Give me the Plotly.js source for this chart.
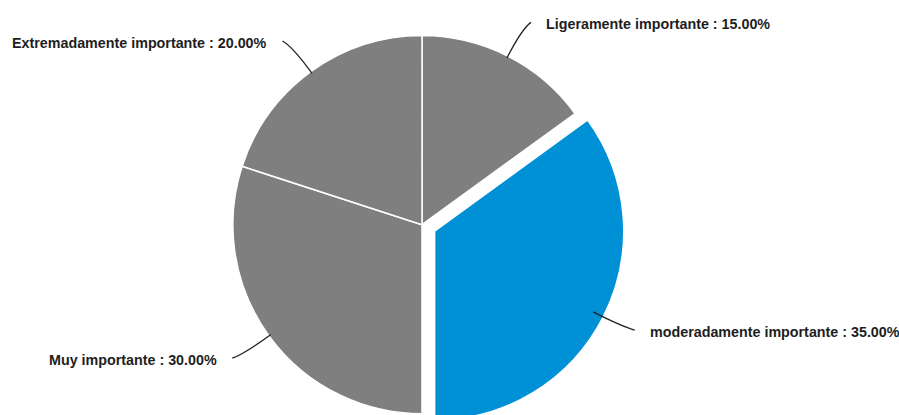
<!DOCTYPE html>
<html>
<head>
<meta charset="utf-8">
<script src="https://cdn.plot.ly/plotly-3.0.1.min.js"></script>
<style>
  html, body { margin: 0; padding: 0; overflow: hidden; background: #ffffff; }
  #chart { width: 899px; height: 428px; }
</style>
</head>
<body>
<div id="chart"></div>
<script>
// ---- data ----
const categories = [
  "Ligeramente importante",
  "moderadamente importante",
  "Muy importante",
  "Extremadamente importante"
];
const percentages = [15, 35, 30, 20];
const sliceColors = ["#7f7f7f", "#0090d5", "#7f7f7f", "#7f7f7f"];
const pulls = [0, 0.075, 0, 0];

// ---- layout geometry ----
const W = 899, H = 428;
const domX = [0.2425, 0.6963];
const domY = [0, 0.95];
const maxPull = Math.max(...pulls);
const cx = W * (domX[0] + domX[1]) / 2;
const cy = H * (1 - (domY[0] + domY[1]) / 2);
const r = Math.min(W * (domX[1] - domX[0]), H * (domY[1] - domY[0])) / (2 + 2 * maxPull);

const toPX = x => x / W;
const toPY = y => 1 - y / H;

const total = percentages.reduce((a, b) => a + b, 0);
const shapes = [];
const annotations = [];
let cum = 0;
percentages.forEach((v, i) => {
  const th = 2 * Math.PI * (cum + v / 2) / total;
  cum += v;
  const dx = Math.sin(th), dy = -Math.cos(th);
  const sx = dx >= 0 ? 1 : -1;
  const off = pulls[i] * r * 0.35;
  const sX = cx + dx * (off + r - 2), sY = cy + dy * (off + r - 2);
  const qX = sX + dx * 33, qY = sY + dy * 33;
  const eX = sX + dx * 40 + sx * 6, eY = sY + dy * 40;
  shapes.push({
    type: "path", xref: "paper", yref: "paper",
    path: `M ${toPX(sX)} ${toPY(sY)} Q ${toPX(qX)} ${toPY(qY)} ${toPX(eX)} ${toPY(eY)}`,
    line: { color: "#222222", width: 1.3 }
  });
  annotations.push({
    xref: "paper", yref: "paper",
    x: toPX(eX + sx * 13), y: toPY(eY + 2),
    xanchor: sx > 0 ? "left" : "right", yanchor: "middle",
    showarrow: false,
    text: `<b>${categories[i]} : ${percentages[i].toFixed(2)}%</b>`,
    font: { family: "Liberation Sans, Arial, sans-serif", size: 14.3, color: "#1e1e1e" }
  });
});

const trace = {
  type: "pie",
  labels: categories,
  values: percentages,
  sort: false,
  direction: "clockwise",
  rotation: 0,
  pull: pulls,
  marker: { colors: sliceColors, line: { color: "#ffffff", width: 1.5 } },
  textinfo: "none",
  hoverinfo: "skip",
  showlegend: false,
  domain: { x: domX, y: domY }
};

Plotly.newPlot("chart", [trace], {
  width: W, height: H,
  margin: { l: 0, r: 0, t: 0, b: 0 },
  paper_bgcolor: "#ffffff",
  plot_bgcolor: "#ffffff",
  showlegend: false,
  shapes: shapes,
  annotations: annotations
}, { displayModeBar: false, staticPlot: true });
</script>
</body>
</html>
